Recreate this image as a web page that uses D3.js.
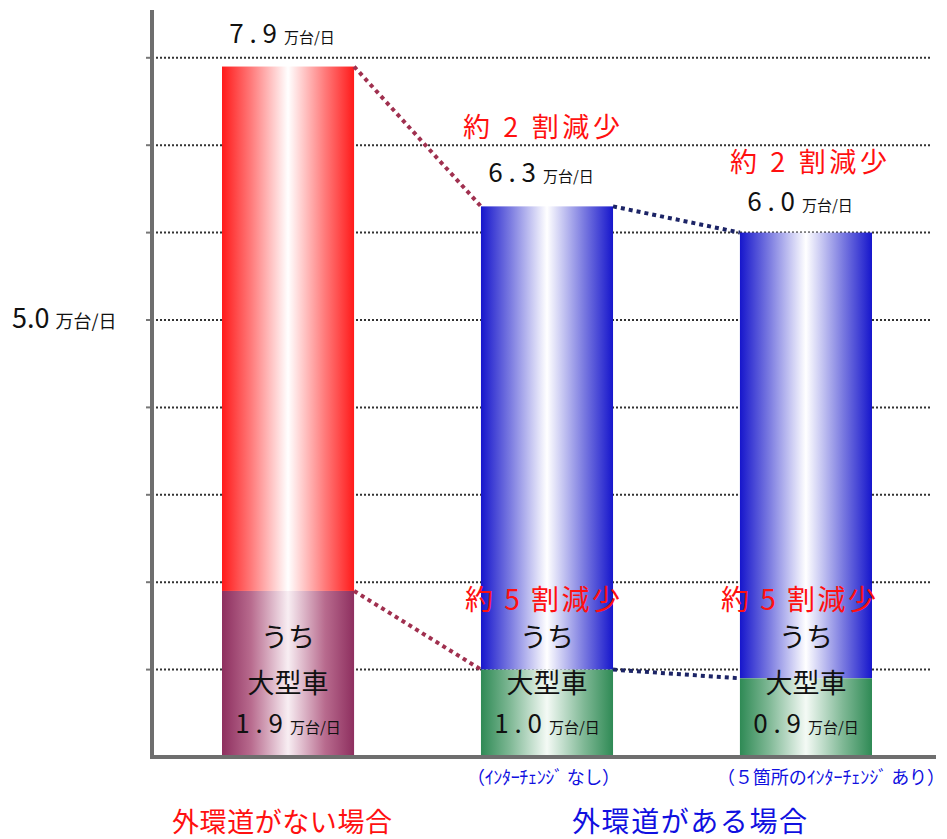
<!DOCTYPE html>
<html>
<head>
<meta charset="utf-8">
<script src="https://cdn.jsdelivr.net/npm/d3@7"></script>
<style>
  body { margin: 0; background: #fff; }
  text { font-family: "Noto Sans CJK JP", "Noto Sans", sans-serif; }
</style>
</head>
<body>
<svg id="chart" width="947" height="839"></svg>
<script>
// data (万台/日)
const categories = ["none", "noIC", "fiveIC"];
const totals = [7.9, 6.3, 6.0];
const largeCars = [1.9, 1.0, 0.9];
const totalLabels = ["7.9", "6.3", "6.0"];
const largeLabels = ["1.9", "1.0", "0.9"];
const gridTicks = [1, 2, 3, 4, 5, 6, 7, 8];
const reduceTotal = ["約 2 割減少", "約 2 割減少"];
const reduceLarge = ["約 5 割減少", "約 5 割減少"];
const subLabels = ["（ｲﾝﾀｰﾁｪﾝｼﾞ なし）", "（５箇所のｲﾝﾀｰﾁｪﾝｼﾞ あり）"];
const groupLabels = ["外環道がない場合", "外環道がある場合"];

const svg = d3.select("#chart");
const baseY = 757;

const y = d3.scaleLinear().domain([0, 8]).range([baseY, baseY - 8 * 87.4]);
const x = d3.scaleBand().domain(categories).range([222, 872]).paddingInner(0.49).paddingOuter(0);
const bw = x.bandwidth();

// gradients
const defs = svg.append("defs");
function addGrad(id, edge, mid, center) {
	let g = defs.append("linearGradient").attr("id", id)
		.attr("x1", "0%").attr("x2", "100%").attr("y1", "0%").attr("y2", "0%");
	g.append("stop").attr("offset", "0%").attr("stop-color", edge);
	g.append("stop").attr("offset", "22%").attr("stop-color", mid);
	g.append("stop").attr("offset", "50%").attr("stop-color", center);
	g.append("stop").attr("offset", "78%").attr("stop-color", mid);
	g.append("stop").attr("offset", "100%").attr("stop-color", edge);
}
addGrad("gRed", "#ff1a1a", "#ff7a7a", "#ffffff");
addGrad("gPurple", "#8e2f5f", "#b86b8e", "#f8eef3");
addGrad("gBlue", "#1616cc", "#7a7ae0", "#ffffff");
addGrad("gGreen", "#2f8a55", "#7fb895", "#f4faf5");

// dotted gridlines
svg.append("g").selectAll("line")
	.data(gridTicks)
	.join("line")
	.attr("x1", 152).attr("x2", 932)
	.attr("y1", d => y(d)).attr("y2", d => y(d))
	.attr("stroke", "#333")
	.attr("stroke-width", 2)
	.attr("stroke-dasharray", "2,2");

// small ticks on the axis
svg.append("g").selectAll("line")
	.data(gridTicks)
	.join("line")
	.attr("x1", 146).attr("x2", 152)
	.attr("y1", d => y(d)).attr("y2", d => y(d))
	.attr("stroke", "#777").attr("stroke-width", 2);

// bars: upper part (total) and lower part (large vehicles)
const topFill = ["url(#gRed)", "url(#gBlue)", "url(#gBlue)"];
const lowFill = ["url(#gPurple)", "url(#gGreen)", "url(#gGreen)"];

svg.append("g").selectAll("rect")
	.data(categories)
	.join("rect")
	.attr("x", d => x(d))
	.attr("y", (d, i) => y(totals[i]))
	.attr("width", bw)
	.attr("height", (d, i) => y(largeCars[i]) - y(totals[i]))
	.attr("fill", (d, i) => topFill[i]);

svg.append("g").selectAll("rect")
	.data(categories)
	.join("rect")
	.attr("x", d => x(d))
	.attr("y", (d, i) => y(largeCars[i]))
	.attr("width", bw)
	.attr("height", (d, i) => baseY - y(largeCars[i]))
	.attr("fill", (d, i) => lowFill[i]);

// axes lines
svg.append("line").attr("x1", 152).attr("x2", 152).attr("y1", 10).attr("y2", baseY)
	.attr("stroke", "#6e6e6e").attr("stroke-width", 4);
svg.append("line").attr("x1", 150).attr("x2", 936).attr("y1", baseY).attr("y2", baseY)
	.attr("stroke", "#6e6e6e").attr("stroke-width", 4);

// connectors between bars
const connColor = ["#a0304f", "#1c2466"];
function connector(series, i, color) {
	svg.append("line")
		.attr("x1", x(categories[i]) + bw).attr("y1", y(series[i]))
		.attr("x2", x(categories[i + 1])).attr("y2", y(series[i + 1]))
		.attr("stroke", color).attr("stroke-width", 4)
		.attr("stroke-dasharray", "4,4");
}
connector(totals, 0, connColor[0]);
connector(totals, 1, connColor[1]);
connector(largeCars, 0, connColor[0]);
connector(largeCars, 1, connColor[1]);

// value label helper: big number + small unit
function valueLabel(cx, yy, num) {
	let t = svg.append("text").attr("x", cx).attr("y", yy)
		.attr("text-anchor", "middle").attr("fill", "#111");
	t.append("tspan").text(num.replace(".", " . ")).style("font-size", "26px");
	t.append("tspan").attr("dx", 7).text("万台/日").style("font-size", "15px");
	return t;
}

categories.forEach((c, i) => {
	let cx = x(c) + bw / 2;
	valueLabel(cx - 6, y(totals[i]) - (i === 2 ? 22 : 24), totalLabels[i]);
	svg.append("text").attr("x", cx).attr("y", 647).attr("text-anchor", "middle")
		.style("font-size", "27px").attr("fill", "#111").text("うち");
	svg.append("text").attr("x", cx).attr("y", 693).attr("text-anchor", "middle")
		.style("font-size", "27px").attr("fill", "#111").text("大型車");
	valueLabel(cx, 733, largeLabels[i]);
});

// reduction labels
reduceTotal.forEach((t, i) => {
	let x0 = i === 0 ? 463 : 730;
	svg.append("text").attr("x", x0).attr("y", i === 0 ? 137 : 172)
		.attr("textLength", 157).style("font-size", "27px")
		.attr("fill", "#ff1010").text(t);
});
reduceLarge.forEach((t, i) => {
	let x0 = x(categories[i + 1]) + bw / 2 - 82 - i * 3;
	svg.append("text").attr("x", x0).attr("y", 610)
		.attr("textLength", 155).style("font-size", "28px")
		.attr("fill", "#ff1010").text(t);
});

// y label
let yl = svg.append("text").attr("x", 12).attr("y", 328).attr("fill", "#111");
yl.append("tspan").text("5.0").style("font-size", "27px");
yl.append("tspan").attr("dx", 6).text("万台/日").style("font-size", "18px");

// sub labels under bars 2 and 3
svg.append("text").attr("x", 467).attr("y", 784).attr("textLength", 153)
	.style("font-size", "18px").attr("fill", "#1010e0").text(subLabels[0]);
svg.append("text").attr("x", 717).attr("y", 784).attr("textLength", 228)
	.style("font-size", "18px").attr("fill", "#1010e0").text(subLabels[1]);

// group labels
svg.append("text").attr("x", 172).attr("y", 832).attr("textLength", 220)
	.style("font-size", "27px").attr("fill", "#ff1010").text(groupLabels[0]);
svg.append("text").attr("x", 572).attr("y", 832).attr("textLength", 235)
	.style("font-size", "28px").attr("fill", "#1010e0").text(groupLabels[1]);
</script>
</body>
</html>
